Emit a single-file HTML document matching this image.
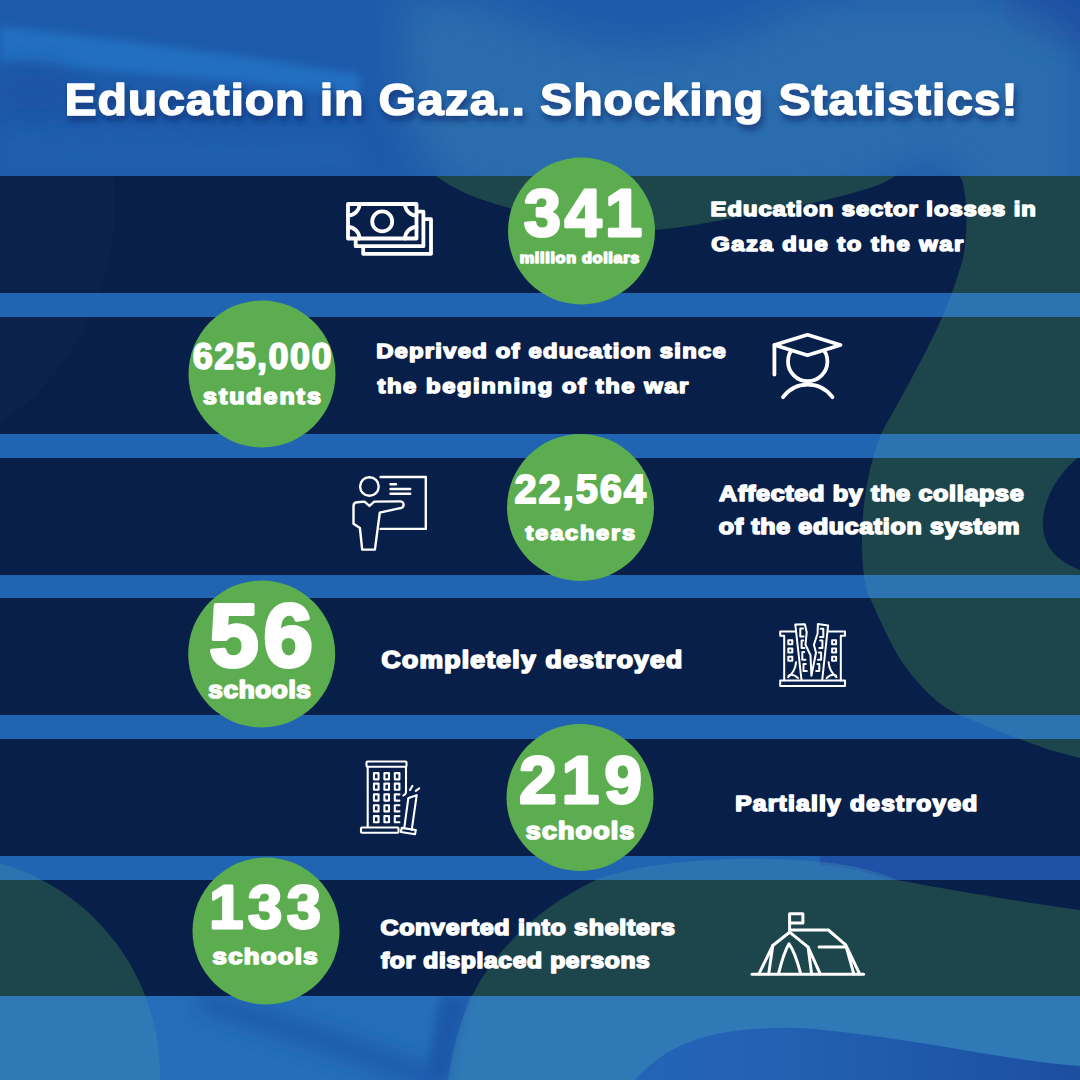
<!DOCTYPE html><html><head><meta charset="utf-8"><style>
html,body{margin:0;padding:0;width:1080px;height:1080px;overflow:hidden;background:#2062b2}
svg{display:block}
text{font-family:"Liberation Sans",sans-serif;font-weight:bold;fill:#fff;stroke:#fff;stroke-linejoin:round}
</style></head><body>
<svg width="1080" height="1080" viewBox="0 0 1080 1080">
<defs>
<filter id="b20" x="-50%" y="-50%" width="200%" height="200%"><feGaussianBlur stdDeviation="20"/></filter>
<filter id="b10" x="-50%" y="-50%" width="200%" height="200%"><feGaussianBlur stdDeviation="10"/></filter>
<filter id="b4" x="-50%" y="-50%" width="200%" height="200%"><feGaussianBlur stdDeviation="4"/></filter>
<filter id="sh" x="-10%" y="-30%" width="120%" height="160%"><feDropShadow dx="2" dy="5" stdDeviation="3" flood-color="#0a2a6a" flood-opacity="0.7"/></filter>
<clipPath id="bands">
<rect x="0" y="176" width="1080" height="117"/>
<rect x="0" y="317" width="1080" height="117"/>
<rect x="0" y="458" width="1080" height="117"/>
<rect x="0" y="598" width="1080" height="117"/>
<rect x="0" y="739" width="1080" height="117"/>
<rect x="0" y="880" width="1080" height="116"/>
</clipPath>
<clipPath id="nobands"><path clip-rule="evenodd" d="M0,0H1080V1080H0Z M0,176H1080V293H0Z M0,317H1080V434H0Z M0,458H1080V575H0Z M0,598H1080V715H0Z M0,739H1080V856H0Z M0,880H1080V996H0Z"/></clipPath>
<clipPath id="toponly"><rect width="1080" height="176"/></clipPath><clipPath id="nobelow"><rect y="176" width="1080" height="904"/></clipPath>
</defs>
<rect width="1080" height="1080" fill="#2164b2"/>
<rect width="1080" height="176" fill="#1d5aaa"/>
<path d="M0,26 L120,40 L240,56 L360,74 L360,96 L240,82 L120,72 L0,62 Z" fill="#226ec0" filter="url(#b4)"/>
<ellipse cx="35" cy="92" rx="42" ry="28" fill="#1c54a6" filter="url(#b10)"/>
<ellipse cx="1075" cy="8" rx="70" ry="40" fill="#1a50a4" filter="url(#b10)"/>
<path d="M0,130 L360,140 L360,176 L0,176 Z" fill="#2062b2" filter="url(#b10)" opacity="0.6"/>
<rect y="996" width="1080" height="84" fill="#256eba"/>
<path d="M200,1000 C260,1020 330,1040 380,1060 C410,1070 430,1078 440,1085" stroke="#1d58aa" stroke-width="22" fill="none" filter="url(#b10)" opacity="0.9"/>
<path d="M440,996 L470,996 L450,1080 L425,1080 Z" fill="#1d58aa" filter="url(#b4)"/>
<path d="M820,856 L1080,856 L1080,880 L892,880 C870,873 845,866 820,865 Z" fill="#1f52a6"/>
<linearGradient id="wv" x1="640" y1="0" x2="1080" y2="0" gradientUnits="userSpaceOnUse"><stop offset="0" stop-color="#2464b6"/><stop offset="0.35" stop-color="#2260b2"/><stop offset="1" stop-color="#1c4ea0"/></linearGradient>
<path d="M635,1080 C670,1040 720,1026 800,1028 C900,1035 1000,1060 1080,1066 L1080,1080 Z" fill="url(#wv)"/>
<g clip-path="url(#nobelow)"><g clip-path="url(#nobands)" fill="rgb(70,145,178)" fill-opacity="0.33"><path d="M1080,44 C1070,30 1055,15 1022,4 L1000,0 L830,0 C810,4 790,10 770,22 C730,40 690,48 640,48 C590,48 540,30 500,12 C485,6 470,2 455,0 L400,0 C400,60 410,120 420,150 C425,160 432,170 436,176 C450,186 465,194 483,200 C520,212 570,226 600,228 C625,231 640,231 654,230 C680,228 700,224 712,222 C750,215 780,210 808,204 C840,197 865,190 881,184 C893,178 900,172 910,167 C920,163 935,163 945,166 C953,169 958,173 962,180 C968,200 968,240 962,262 C955,285 948,305 940,322 C925,355 900,400 882,432 C870,460 862,500 862,540 C862,570 865,590 870,598 C878,615 888,640 902,662 C915,680 935,705 960,715 C990,728 1020,740 1050,750 L1080,758 Z"/><path d="M448,1080 C452,1050 460,1020 472,996 C495,950 540,905 600,878 C650,862 720,856 800,860 C850,863 880,872 897,880 C950,890 1010,900 1080,910 L1080,1066 C1000,1060 900,1035 800,1028 C720,1026 670,1040 635,1080 Z"/><path d="M-60,855 A220,220 0 0 1 160,1075 L160,1080 L-60,1080 Z"/></g></g>
<g clip-path="url(#toponly)"><g filter="url(#b20)" fill="rgb(70,145,178)" fill-opacity="0.33"><path d="M1080,44 C1070,30 1055,15 1022,4 L1000,0 L830,0 C810,4 790,10 770,22 C730,40 690,48 640,48 C590,48 540,30 500,12 C485,6 470,2 455,0 L400,0 C400,60 410,120 420,150 C425,160 432,170 436,176 C450,186 465,194 483,200 C520,212 570,226 600,228 C625,231 640,231 654,230 C680,228 700,224 712,222 C750,215 780,210 808,204 C840,197 865,190 881,184 C893,178 900,172 910,167 C920,163 935,163 945,166 C953,169 958,173 962,180 C968,200 968,240 962,262 C955,285 948,305 940,322 C925,355 900,400 882,432 C870,460 862,500 862,540 C862,570 865,590 870,598 C878,615 888,640 902,662 C915,680 935,705 960,715 C990,728 1020,740 1050,750 L1080,758 Z"/></g></g>
<rect x="0" y="176" width="1080" height="117" fill="#081f49"/>
<rect x="0" y="317" width="1080" height="117" fill="#081f49"/>
<rect x="0" y="458" width="1080" height="117" fill="#081f49"/>
<rect x="0" y="598" width="1080" height="117" fill="#081f49"/>
<rect x="0" y="739" width="1080" height="117" fill="#081f49"/>
<rect x="0" y="880" width="1080" height="116" fill="#081f49"/>
<g clip-path="url(#bands)" fill="#1c454c"><path d="M1080,44 C1070,30 1055,15 1022,4 L1000,0 L830,0 C810,4 790,10 770,22 C730,40 690,48 640,48 C590,48 540,30 500,12 C485,6 470,2 455,0 L400,0 C400,60 410,120 420,150 C425,160 432,170 436,176 C450,186 465,194 483,200 C520,212 570,226 600,228 C625,231 640,231 654,230 C680,228 700,224 712,222 C750,215 780,210 808,204 C840,197 865,190 881,184 C893,178 900,172 910,167 C920,163 935,163 945,166 C953,169 958,173 962,180 C968,200 968,240 962,262 C955,285 948,305 940,322 C925,355 900,400 882,432 C870,460 862,500 862,540 C862,570 865,590 870,598 C878,615 888,640 902,662 C915,680 935,705 960,715 C990,728 1020,740 1050,750 L1080,758 Z"/><path d="M448,1080 C452,1050 460,1020 472,996 C495,950 540,905 600,878 C650,862 720,856 800,860 C850,863 880,872 897,880 C950,890 1010,900 1080,910 L1080,1066 C1000,1060 900,1035 800,1028 C720,1026 670,1040 635,1080 Z"/><path d="M-60,855 A220,220 0 0 1 160,1075 L160,1080 L-60,1080 Z"/><path d="M1080,456 C1062,470 1046,492 1043,518 C1041,545 1055,560 1080,570 Z" fill="#081f49"/></g>
<g clip-path="url(#bands)"><circle cx="-150" cy="205" r="265" fill="#3a6a80" fill-opacity="0.07"/></g>
<circle cx="581.5" cy="231" r="73.5" fill="#5cad50"/>
<circle cx="262" cy="374" r="73.5" fill="#5cad50"/>
<circle cx="580.5" cy="507.5" r="73.5" fill="#5cad50"/>
<circle cx="261.7" cy="654" r="73.5" fill="#5cad50"/>
<circle cx="580" cy="797.5" r="73.5" fill="#5cad50"/>
<circle cx="266" cy="931" r="73.5" fill="#5cad50"/>
<g stroke="#fff" fill="none" stroke-linecap="round" stroke-linejoin="round" stroke-width="3.8"><rect x="348" y="204" width="68.5" height="34.5"/><circle cx="382.2" cy="221.4" r="10"/><path d="M348,215.5 A11.5,11.5 0 0 0 359.5,204"/><path d="M405,204 A11.5,11.5 0 0 0 416.5,215.5"/><path d="M348,227 A11.5,11.5 0 0 1 359.5,238.5"/><path d="M405,238.5 A11.5,11.5 0 0 1 416.5,227"/><path d="M418.5,211.6 H423.4 V246.2 H355.7 V240.4"/><path d="M425.3,219.2 H431 V253.9 H363.2 V248.1"/></g>
<g stroke="#fff" fill="none" stroke-linecap="round" stroke-linejoin="round" stroke-width="3.8"><circle cx="807.7" cy="361.4" r="19.7"/><path d="M807.5,334.8 L840.5,345 L807.5,355.3 L774.5,345 Z" fill="#081f49"/><path d="M774.4,345 V374.5"/><path d="M783,397.2 A30.7,30.7 0 0 1 832.5,397.2"/></g>
<g stroke="#fff" fill="none" stroke-linecap="round" stroke-linejoin="round" stroke-width="2.4"><path d="M380.6,477 H425.8 V528.9 H380.6"/><circle cx="369.4" cy="486.5" r="9.3"/><path d="M390.5,484.2 H396 M390.5,489 H410.2 M390.5,493.7 H410.2"/><path d="M364.5,501.6 L369.4,505.9 L374.3,501.6 L400.2,501.4 A3.4,3.4 0 0 1 400.2,508.2 L379.8,512.6 L374.9,549.6 L362.2,549.6 L359.9,528 L353.5,523.8 L353.5,506 Q353.5,502.6 357,502.2 Z"/></g>
<g stroke="#fff" fill="none" stroke-linecap="round" stroke-linejoin="round" stroke-width="2"><path d="M795.5,631.6 H780.2 V635.8 H784.2 M784.2,635.8 V680.6 M828.5,631.6 H845 V635.8 H840.8 V680.6"/><path d="M780.2,680.6 H845 V686 H780.2 Z"/><rect x="788.3" y="640.2" width="4" height="4"/><rect x="788.3" y="648.4" width="4" height="4"/><rect x="788.3" y="656.7" width="4" height="4"/><rect x="832.1" y="640.2" width="4" height="4"/><rect x="832.1" y="648.4" width="4" height="4"/><rect x="832.1" y="656.7" width="4" height="4"/><path d="M801.5,680 L795.3,624.5 L804.9,624.2 L806.7,632.3 L805.5,644.7 L810.5,655.2 L811.4,675.7 L816,652.7 L813.9,644.7 L817.6,633.5 L817.9,623.9 L828.1,625.4 L822.2,680"/><path d="M803,628.5 H800.3 V636.5 H803.5 M803.2,640.5 H801.6 V648 H804.4 M804.2,652 H802.3 V659.8 H805.5 M805.8,664 H803.5 V671 H806.8"/><path d="M820.6,628.8 H823.3 V637 H820.1 M820.1,640.5 H822.4 V648 H819.3 M818.8,652.5 H821.1 V659.8 H818 M817.5,664 H819.3 V671 H816.2"/><path d="M796,662.2 Q795.5,671 788.1,677.2 M788.5,675.6 Q793,673 798,678"/><path d="M828.6,662.2 Q829.2,671 836.5,677.2 M836.1,675.6 Q831.8,673 826.7,678"/></g>
<g stroke="#fff" fill="none" stroke-linecap="round" stroke-linejoin="round" stroke-width="2.1"><rect x="366.5" y="761.5" width="40" height="5.2" rx="1"/><path d="M367.7,766.7 V826.5 M406,766.7 V792.5 Q405.5,795 403.3,795.5"/><rect x="361" y="827.5" width="37.5" height="5.3" rx="1"/>
<rect x="373.95" y="773.15" width="4.6" height="6.2"/>
<rect x="373.95" y="783.6" width="4.6" height="6.2"/>
<rect x="373.95" y="794.4" width="4.6" height="6.2"/>
<rect x="373.95" y="805.1999999999999" width="4.6" height="6.2"/>
<rect x="373.95" y="816.1" width="4.6" height="6.2"/>
<rect x="384.4" y="773.15" width="4.6" height="6.2"/>
<rect x="384.4" y="783.6" width="4.6" height="6.2"/>
<rect x="384.4" y="794.4" width="4.6" height="6.2"/>
<rect x="384.4" y="805.1999999999999" width="4.6" height="6.2"/>
<rect x="384.4" y="816.1" width="4.6" height="6.2"/>
<rect x="394.8" y="773.15" width="4.6" height="6.2"/>
<rect x="394.8" y="783.6" width="4.6" height="6.2"/>
<path d="M399.40000000000003,794.4 H394.8 V800.6 H399.40000000000003"/>
<path d="M399.40000000000003,805.1999999999999 H394.8 V811.4 H399.40000000000003"/>
<path d="M399.40000000000003,816.1 H394.8 V822.3000000000001 H399.40000000000003"/>
<path d="M404.2,828.3 L408.3,798.3 L410,797.5 L416.7,795.2 L411.7,830"/><path d="M401.7,827.9 L415.8,830 L415,834.2 L400.8,832 Z"/><path d="M410,790 L412.5,785.8 M415.8,790.8 L419.2,788.3"/></g>
<g stroke="#fff" fill="none" stroke-linecap="round" stroke-linejoin="round" stroke-width="3"><path d="M752,974.2 H863.6"/><path d="M789.6,931.6 V913.7 H802.9 V922.9 H789.6"/><path d="M758.9,973.9 L772.8,945.5 L789.6,932.2 L808.1,947.2 L820.2,973.9"/><path d="M772.8,945.5 L768.7,973.9 M808.1,947.2 L811.6,973.9"/><path d="M778.6,973.3 Q784,952 789,943.8 Q795,952 800.6,973.3"/><path d="M789.6,930 H828.3 L845.7,944.9 L859.6,973.9 M845.7,944.9 L853.8,973.9 M819.1,946.9 H845.7"/></g>
<g filter="url(#sh)"><g transform="matrix(1.0817,0,0,1,-5.474,0)"><text x="64.68" y="115.33" font-size="44.61" letter-spacing="0.800" stroke-width="1.34" >Education in Gaza.. Shocking Statistics!</text></g></g>
<text x="523.97" y="236.01" font-size="66.17" letter-spacing="3.866" stroke-width="2.98" >341</text>
<g transform="matrix(1.1106,0,0,1,-57.533,0)"><text x="519.77" y="263.27" font-size="14.65" letter-spacing="0.600" stroke-width="1.46" >million dollars</text></g>
<text x="192.78" y="368.89" font-size="36.02" letter-spacing="1.415" stroke-width="1.62" >625,000</text>
<g transform="matrix(1.1500,0,0,1,-30.450,0)"><text x="203.05" y="404.49" font-size="21.71" letter-spacing="1.712" stroke-width="1.63" >students</text></g>
<text x="514.50" y="503.30" font-size="39.84" letter-spacing="1.936" stroke-width="1.79" >22,564</text>
<g transform="matrix(1.1500,0,0,1,-78.750,0)"><text x="525.52" y="540.03" font-size="20.43" letter-spacing="1.595" stroke-width="1.53" >teachers</text></g>
<text x="209.25" y="665.50" font-size="88.68" letter-spacing="5.042" stroke-width="3.99" >56</text>
<g transform="matrix(1.1166,0,0,1,-24.278,0)"><text x="208.36" y="698.32" font-size="23.35" letter-spacing="0.600" stroke-width="1.75" >schools</text></g>
<text x="519.16" y="802.69" font-size="67.12" letter-spacing="5.327" stroke-width="3.02" >219</text>
<g transform="matrix(1.1500,0,0,1,-78.870,0)"><text x="525.86" y="839.12" font-size="23.35" letter-spacing="1.010" stroke-width="1.75" >schools</text></g>
<text x="209.21" y="927.82" font-size="61.39" letter-spacing="4.607" stroke-width="2.76" >133</text>
<g transform="matrix(1.1500,0,0,1,-31.875,0)"><text x="212.56" y="964.16" font-size="22.41" letter-spacing="1.105" stroke-width="1.68" >schools</text></g>
<g transform="matrix(1.1500,0,0,1,-106.695,0)"><text x="710.69" y="215.82" font-size="20.70" letter-spacing="0.825" stroke-width="1.55" >Education sector losses in</text></g>
<g transform="matrix(1.1500,0,0,1,-106.695,0)"><text x="711.23" y="250.82" font-size="20.70" letter-spacing="1.322" stroke-width="1.55" >Gaza due to the war</text></g>
<g transform="matrix(1.1500,0,0,1,-56.535,0)"><text x="376.29" y="358.42" font-size="20.70" letter-spacing="1.075" stroke-width="1.55" >Deprived of education since</text></g>
<g transform="matrix(1.1500,0,0,1,-56.535,0)"><text x="377.43" y="392.52" font-size="20.70" letter-spacing="1.356" stroke-width="1.55" >the beginning of the war</text></g>
<g transform="matrix(1.1278,0,0,1,-91.886,0)"><text x="719.08" y="500.96" font-size="22.29" letter-spacing="0.600" stroke-width="1.67" >Affected by the collapse</text></g>
<g transform="matrix(1.1209,0,0,1,-86.896,0)"><text x="718.77" y="533.96" font-size="22.29" letter-spacing="0.600" stroke-width="1.67" >of the education system</text></g>
<g transform="matrix(1.1500,0,0,1,-57.255,0)"><text x="381.62" y="668.44" font-size="23.03" letter-spacing="1.106" stroke-width="1.73" >Completely destroyed</text></g>
<g transform="matrix(1.1500,0,0,1,-110.400,0)"><text x="735.37" y="811.20" font-size="21.31" letter-spacing="1.101" stroke-width="1.60" >Partially destroyed</text></g>
<g transform="matrix(1.1413,0,0,1,-53.773,0)"><text x="380.42" y="935.38" font-size="21.93" letter-spacing="0.600" stroke-width="1.64" >Converted into shelters</text></g>
<g transform="matrix(1.1207,0,0,1,-45.914,0)"><text x="380.95" y="968.48" font-size="21.93" letter-spacing="0.600" stroke-width="1.64" >for displaced persons</text></g>
</svg></body></html>
